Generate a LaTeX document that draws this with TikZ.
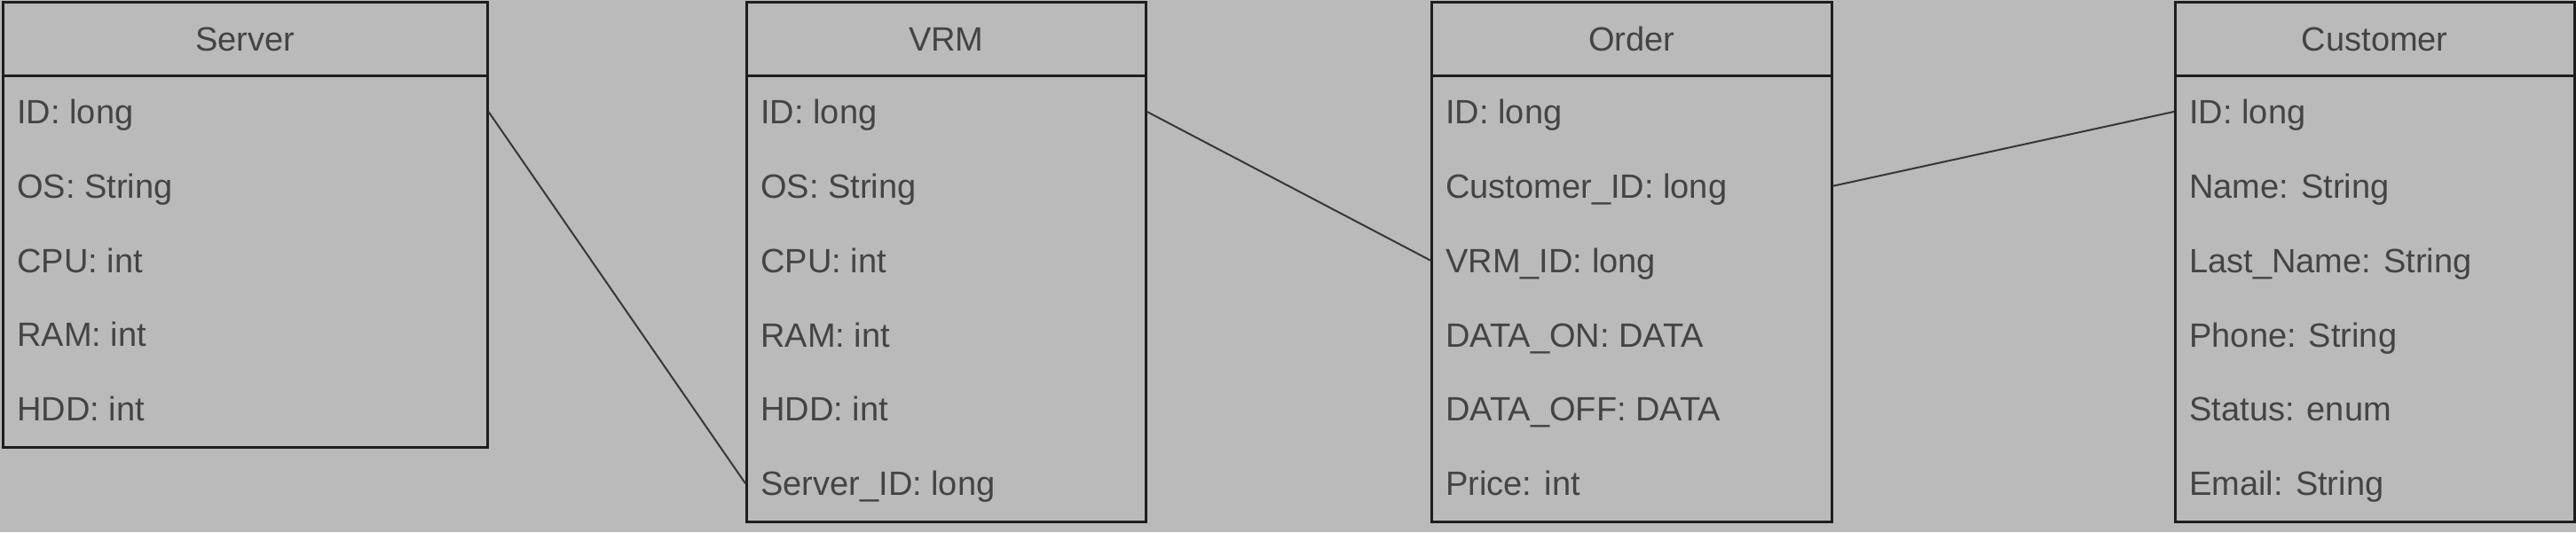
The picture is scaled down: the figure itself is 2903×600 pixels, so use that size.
\documentclass[tikz,border=0pt]{standalone}
\usepackage{fontspec}
\setmainfont{Liberation Sans}
\definecolor{bgc}{RGB}{185,186,185}
\definecolor{linec}{RGB}{30,30,30}
\definecolor{connc}{RGB}{55,55,55}
\definecolor{txtc}{RGB}{68,68,68}
\begin{document}
\begin{tikzpicture}[x=0.5pt,y=-0.5pt,
  every node/.style={font=\fontsize{19pt}{22pt}\selectfont, text=txtc},
  box/.style={draw=linec, line width=1.25pt, fill=bgc, anchor=north west, inner sep=0pt, minimum height=#1},
  hdr/.style={draw=linec, line width=1.25pt, anchor=north west, inner sep=0pt, minimum height=41.5pt, text height=13.6pt, text depth=0pt},
  row/.style={anchor=west, inner sep=0pt, text height=13.6pt, text depth=0pt},
  conn/.style={draw=connc, line width=1pt}]
\fill[bgc] (0,0) rectangle (2903,600);
\useasboundingbox (0,0) rectangle (2903,600);

% Server
\node[box=251pt, minimum width=273pt] (server) at (2,1) {};
\node[hdr, minimum width=273pt] (serverH) at (2,1) {Server};
\node[row] (s1) at (19,125.9) {ID: long};
\node[row] (s2) at (19,209.7) {OS: String};
\node[row] (s3) at (19,293.5) {CPU: int};
\node[row] (s4) at (19,377.3) {RAM: int};
\node[row] (s5) at (19,461.1) {HDD: int};

% VRM
\node[box=293pt, minimum width=225pt] (vrm) at (840,1) {};
\node[hdr, minimum width=225pt] (vrmH) at (840,1) {VRM};
\node[row] (v1) at (857,125.9) {ID: long};
\node[row] (v2) at (857,209.75) {OS: String};
\node[row] (v3) at (857,293.6) {CPU: int};
\node[row] (v4) at (857,377.4) {RAM: int};
\node[row] (v5) at (857,461.25) {HDD: int};
\node[row] (v6) at (857,545.1) {Server\_ID: long};

% Order
\node[box=293pt, minimum width=225.5pt] (order) at (1612,1) {};
\node[hdr, minimum width=225.5pt] (orderH) at (1612,1) {Order};
\node[row] (o1) at (1629,125.9) {ID: long};
\node[row] (o2) at (1629,209.75) {Customer\_ID: long};
\node[row] (o3) at (1629,293.6) {VRM\_ID: long};
\node[row] (o4) at (1629,377.4) {DATA\_ON: DATA};
\node[row] (o5) at (1629,461.25) {DATA\_OFF: DATA};
\node[row] (o6) at (1629,545.1) {Price: int};

% Customer
\node[box=293pt, minimum width=225pt] (cust) at (2450,1) {};
\node[hdr, minimum width=225pt] (custH) at (2450,1) {Customer};
\node[row] (c1) at (2467,125.9) {ID: long};
\node[row] (c2) at (2467,209.75) {Name: String};
\node[row] (c3) at (2467,293.6) {Last\_Name: String};
\node[row] (c4) at (2467,377.4) {Phone: String};
\node[row] (c5) at (2467,461.25) {Status: enum};
\node[row] (c6) at (2467,545.1) {Email: String};

% connectors
\draw[conn] (server.east |- s1) -- (vrm.west |- v6);
\draw[conn] (vrm.east |- v1) -- (order.west |- o3);
\draw[conn] (order.east |- o2) -- (cust.west |- c1);
\end{tikzpicture}
\end{document}
